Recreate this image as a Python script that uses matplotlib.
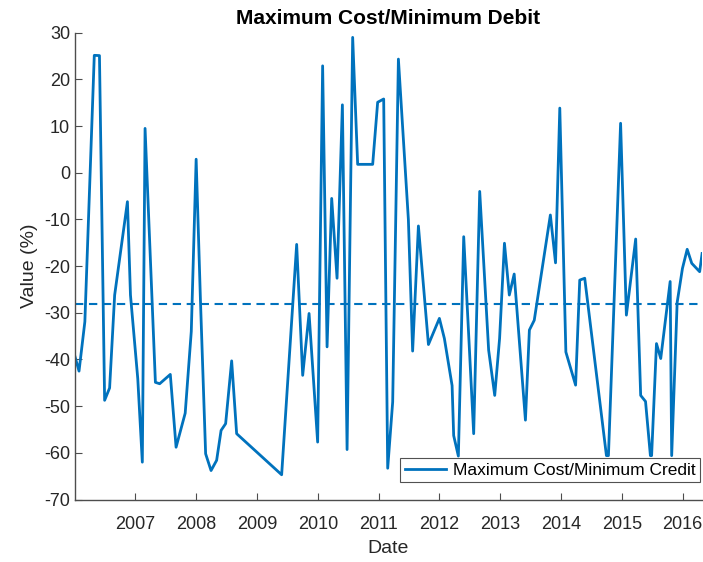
import numpy as np
import matplotlib.pyplot as plt

plt.rcParams['font.family'] = ['Liberation Sans', 'DejaVu Sans']
plt.rcParams['axes.unicode_minus'] = False

# observation dates as decimal years, and the spread value in percent
years = [2006.008, 2006.074, 2006.17, 2006.325, 2006.41, 2006.495, 2006.577, 2006.66,
         2006.87, 2006.92, 2007.04, 2007.115, 2007.16, 2007.33, 2007.40, 2007.575,
         2007.67, 2007.82, 2007.92, 2008.0, 2008.07, 2008.156, 2008.245, 2008.337,
         2008.41, 2008.485, 2008.584, 2008.666, 2009.406, 2009.653, 2009.752, 2009.857,
         2009.998, 2010.08, 2010.153, 2010.229, 2010.317, 2010.405, 2010.482, 2010.574,
         2010.656, 2010.903, 2010.985, 2011.084, 2011.15, 2011.232, 2011.326, 2011.49,
         2011.56, 2011.655, 2011.82, 2012.0, 2012.082, 2012.209, 2012.235, 2012.312,
         2012.4, 2012.564, 2012.663, 2012.81, 2012.91, 2012.99, 2013.07, 2013.15,
         2013.23, 2013.415, 2013.48, 2013.56, 2013.825, 2013.91, 2013.98, 2014.08,
         2014.24, 2014.308, 2014.39, 2014.747, 2014.78, 2014.98, 2015.075, 2015.228,
         2015.31, 2015.39, 2015.47, 2015.49, 2015.57, 2015.64, 2015.795, 2015.82,
         2015.91, 2015.997, 2016.075, 2016.15, 2016.28, 2016.32]
values = [-39.4, -42.5, -31.9, 25.15, 25.1, -48.75, -46.1, -26.2,
          -6.2, -26.2, -44.1, -62.0, 9.5, -44.9, -45.2, -43.2,
          -58.8, -51.5, -34.0, 2.9, -27.0, -60.2, -63.8, -61.6,
          -55.2, -53.75, -40.3, -55.9, -64.7, -15.35, -43.4, -30.15,
          -57.7, 22.9, -37.3, -5.5, -22.6, 14.55, -59.3, 29.0,
          1.8, 1.8, 15.1, 15.8, -63.3, -49.1, 24.35, -10.0,
          -38.2, -11.4, -36.8, -31.2, -35.5, -45.6, -56.3, -60.7,
          -13.7, -55.9, -4.0, -38.0, -47.7, -35.5, -15.1, -26.2,
          -21.7, -53.0, -33.7, -31.6, -9.05, -19.3, 13.85, -38.4,
          -45.5, -23.0, -22.6, -60.6, -60.6, 10.6, -30.5, -14.2,
          -47.7, -49.0, -60.6, -60.6, -36.6, -39.8, -23.3, -60.6,
          -27.8, -20.5, -16.4, -19.4, -21.2, -17.3]
mean_level = -28.1
year_ticks = [2007, 2008, 2009, 2010, 2011, 2012, 2013, 2014, 2015, 2016]
y_ticks = [-70, -60, -50, -40, -30, -20, -10, 0, 10, 20, 30]

blue = '#0072BD'
axcol = '#4d4d4d'
txtcol = '#262626'

fig = plt.figure(figsize=(7.03, 5.62), dpi=100)
ax = fig.add_axes([0.1067, 0.1112, 0.892, 0.8306])

ax.plot(years, values, color=blue, lw=2, label='Maximum Cost/Minimum Credit')
ax.axhline(mean_level, color=blue, lw=1.5, linestyle=(0, (4, 2.7)))

ax.set_xlim(years[0], years[-1])
ax.set_ylim(-70, 30)
ax.set_xticks(year_ticks)
ax.set_xticklabels([str(y) for y in year_ticks])
ax.set_yticks(y_ticks)

for side in ['top', 'right']:
    ax.spines[side].set_visible(False)
for side in ['left', 'bottom']:
    ax.spines[side].set_color(axcol)
    ax.spines[side].set_linewidth(1.0)
ax.tick_params(direction='in', length=5, width=0.8, color=axcol,
               labelcolor=txtcol, labelsize=13)
ax.tick_params(axis='x', pad=12)

ax.set_title('Maximum Cost/Minimum Debit', fontsize=15, fontweight='bold', pad=6)
ax.set_xlabel('Date', fontsize=14, color=txtcol, labelpad=5)
ax.set_ylabel('Value (%)', fontsize=14, color=txtcol)

leg = ax.legend(loc='lower right', bbox_to_anchor=(0.997, 0.037), fontsize=12.5,
                frameon=True, fancybox=False, borderaxespad=0, handlelength=2.4,
                handletextpad=0.4, borderpad=0.25)
leg.get_frame().set_edgecolor(txtcol)
leg.get_frame().set_linewidth(0.8)

fig.savefig('out.png', dpi=100)
